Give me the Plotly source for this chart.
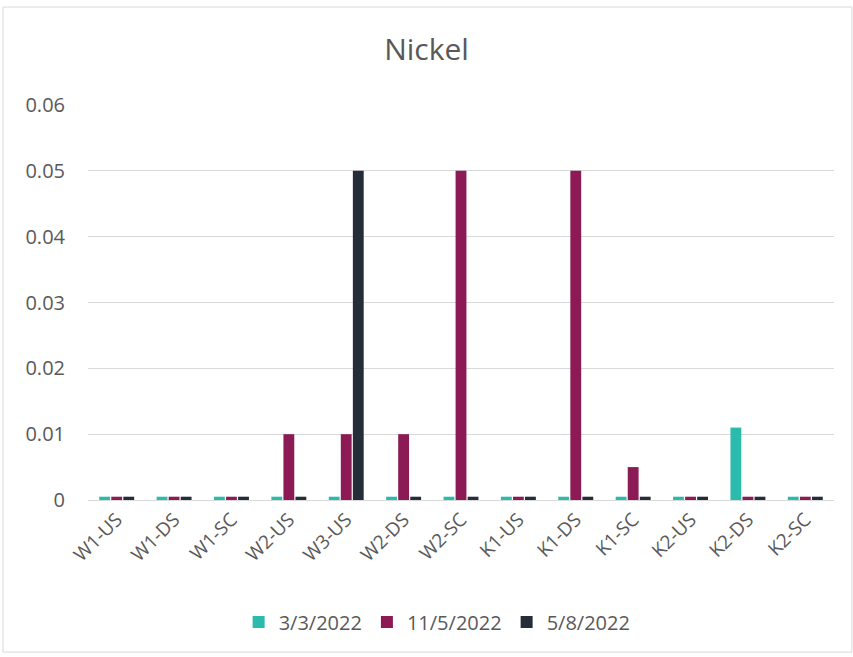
import plotly.graph_objects as go

categories = ["W1-US", "W1-DS", "W1-SC", "W2-US", "W3-US", "W2-DS", "W2-SC",
              "K1-US", "K1-DS", "K1-SC", "K2-US", "K2-DS", "K2-SC"]
s_0303 = [0.0005, 0.0005, 0.0005, 0.0005, 0.0005, 0.0005, 0.0005,
          0.0005, 0.0005, 0.0005, 0.0005, 0.011, 0.0005]
s_1105 = [0.0005, 0.0005, 0.0005, 0.01, 0.01, 0.01, 0.05,
          0.0005, 0.05, 0.005, 0.0005, 0.0005, 0.0005]
s_0508 = [0.0005, 0.0005, 0.0005, 0.0005, 0.05, 0.0005, 0.0005,
          0.0005, 0.0005, 0.0005, 0.0005, 0.0005, 0.0005]
series_names = ["3/3/2022", "11/5/2022", "5/8/2022"]
colors = ["#2BBBAD", "#8B1A55", "#252E38"]

fig = go.Figure()
for name, vals, c in zip(series_names, [s_0303, s_1105, s_0508], colors):
    fig.add_trace(go.Bar(x=categories, y=vals, name=name, marker_color=c,
                         marker_line_width=0))

font = "Open Sans, Noto Sans, sans-serif"
fig.update_layout(
    width=853, height=657,
    margin=dict(l=88, r=19, t=105, b=157),
    paper_bgcolor="white", plot_bgcolor="white",
    barmode="group", bargap=0.37, bargroupgap=0.1,
    title=dict(text="Nickel", x=0.5, xanchor="center", y=0.924, yanchor="middle",
               font=dict(family=font, size=30, color="#595959")),
    font=dict(family=font, color="#595959"),
    showlegend=True,
    legend=dict(orientation="h", x=0.468, xanchor="center", y=-0.309, yanchor="middle",
                font=dict(size=20, color="#595959"), itemwidth=30),
    xaxis=dict(tickangle=-45, tickfont=dict(size=19, color="#595959"),
               showline=True, linecolor="#D9D9D9", linewidth=1, showgrid=False,
               ticks="", automargin=False),
    yaxis=dict(range=[0, 0.06], dtick=0.01, tickformat="~g",
               tickfont=dict(size=20, color="#595959"),
               showgrid=True, gridcolor="#D9D9D9", gridwidth=1,
               zeroline=False, showline=False, ticks="", ticklabelstandoff=22,
               automargin=False),
    shapes=[dict(type="rect", xref="paper", yref="paper",
                 x0=-0.114, x1=1.024, y0=-0.385, y1=1.248,
                 line=dict(color="#D9D9D9", width=1), fillcolor="rgba(0,0,0,0)",
                 layer="below")],
)

fig.write_html("out.html")
